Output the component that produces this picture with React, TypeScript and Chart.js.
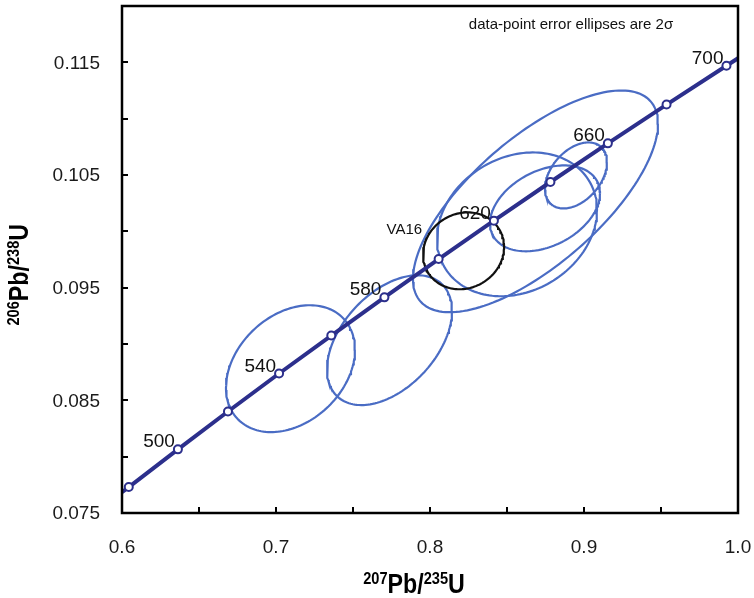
import React, { useEffect, useRef } from 'react';
import { Chart, registerables } from 'chart.js';

Chart.register(...registerables);

// Concordia (age in Ma, 207Pb/235U, 206Pb/238U)
const concordiaAges = [480, 500, 520, 540, 560, 580, 600, 620, 640, 660, 680, 700];
const concordiaX = [0.6044, 0.6363, 0.6688, 0.702, 0.7359, 0.7704, 0.8056, 0.8415, 0.8782, 0.9155, 0.9536, 0.9925];
const concordiaY = [0.0773, 0.08065, 0.08401, 0.08738, 0.09075, 0.09414, 0.09754, 0.10095, 0.10438, 0.10781, 0.11125, 0.1147];
const labelledAges = [500, 540, 580, 620, 660, 700];
// concordia where it meets the frame (left / right)
const concordiaEndsX = [0.6, 1.0];
const concordiaEndsY = [0.07684, 0.11536];

// Data-point error ellipses (2 sigma): centre, half-widths, correlation
const ellipseX = [0.7094, 0.7737, 0.8565, 0.8747, 0.8685, 0.8948];
const ellipseSx = [0.04188, 0.04058, 0.05195, 0.03571, 0.07955, 0.02013];
const ellipseY = [0.08781, 0.09034, 0.10062, 0.10204, 0.10266, 0.10496];
const ellipseSy = [0.00563, 0.00576, 0.00638, 0.00381, 0.00984, 0.00293];
const ellipseRho = [0.3, 0.45, 0.2, 0.35, 0.7, 0.4];

// Reference sample VA16
const refName = 'VA16';
const refX = 0.8218;
const refSx = 0.0263;
const refY = 0.09827;
const refSy = 0.00341;
const refRho = 0.1;

const xTickValues = [0.6, 0.65, 0.7, 0.75, 0.8, 0.85, 0.9, 0.95, 1.0];
const xTickLabels = ['0.6', '', '0.7', '', '0.8', '', '0.9', '', '1.0'];
const yTickValues = [0.075, 0.08, 0.085, 0.09, 0.095, 0.1, 0.105, 0.11, 0.115, 0.12];
const yTickLabels = ['0.075', '', '0.085', '', '0.095', '', '0.105', '', '0.115', ''];

const noteText = 'data-point error ellipses are 2\u03c3';

const FONT = '"Liberation Sans", Arial, Helvetica, sans-serif';
const NAVY = '#2c2f8c';
const BLUE = '#4a6cc4';

function ellipsePoints(cx: number, sx: number, cy: number, sy: number, rho: number) {
  const n = 160;
  const k = Math.sqrt(1 - rho * rho);
  const pts: { x: number; y: number }[] = [];
  for (let i = 0; i <= n; i++) {
    const t = (2 * Math.PI * i) / n;
    pts.push({ x: cx + sx * Math.cos(t), y: cy + sy * (rho * Math.cos(t) + k * Math.sin(t)) });
  }
  return pts;
}

type Part = { t: string; sup?: boolean };

function drawRich(ctx: CanvasRenderingContext2D, parts: Part[], cx: number, base: number) {
  const main = 27;
  const sup = 17;
  const raise = 9;
  const sx = 0.86;
  const fontOf = (p: Part) => `bold ${p.sup ? sup : main}px ${FONT}`;
  let total = 0;
  const widths = parts.map((p) => {
    ctx.font = fontOf(p);
    const w = ctx.measureText(p.t).width * sx;
    total += w;
    return w;
  });
  let x = cx - total / 2;
  parts.forEach((p, i) => {
    ctx.save();
    ctx.font = fontOf(p);
    ctx.translate(x, p.sup ? base - raise : base);
    ctx.scale(sx, 1);
    ctx.textAlign = 'left';
    ctx.textBaseline = 'alphabetic';
    ctx.fillText(p.t, 0, 0);
    ctx.restore();
    x += widths[i];
  });
}

const overlayPlugin = {
  id: 'overlay',
  afterDraw(chart: any) {
    const { ctx, chartArea: a, scales } = chart;
    const xs = scales.x;
    const ys = scales.y;
    ctx.save();
    ctx.strokeStyle = '#000';
    ctx.lineWidth = 2;
    ctx.beginPath();
    xTickValues.forEach((v) => {
      const p = Math.round(xs.getPixelForValue(v));
      ctx.moveTo(p, a.bottom);
      ctx.lineTo(p, a.bottom - 6);
    });
    yTickValues.forEach((v) => {
      const p = Math.round(ys.getPixelForValue(v));
      ctx.moveTo(a.left, p);
      ctx.lineTo(a.left + 6, p);
    });
    ctx.stroke();
    ctx.lineWidth = 2.5;
    ctx.strokeRect(a.left, a.top, a.right - a.left, a.bottom - a.top);

    // tick labels
    ctx.fillStyle = '#1a1a1a';
    ctx.font = `19px ${FONT}`;
    ctx.textAlign = 'center';
    ctx.textBaseline = 'top';
    xTickValues.forEach((v, i) => {
      if (!xTickLabels[i]) return;
      ctx.fillText(xTickLabels[i], xs.getPixelForValue(v), a.bottom + 25);
    });
    ctx.textAlign = 'right';
    ctx.textBaseline = 'middle';
    yTickValues.forEach((v, i) => {
      if (!yTickLabels[i]) return;
      ctx.fillText(yTickLabels[i], a.left - 22, ys.getPixelForValue(v) + 1);
    });

    // age labels
    ctx.fillStyle = '#111';
    ctx.font = `19px ${FONT}`;
    ctx.textAlign = 'right';
    ctx.textBaseline = 'alphabetic';
    labelledAges.forEach((age) => {
      const i = concordiaAges.indexOf(age);
      const px = xs.getPixelForValue(concordiaX[i]);
      const py = ys.getPixelForValue(concordiaY[i]);
      ctx.fillText(String(age), px - 3, py - 2);
    });

    // VA16 label
    ctx.font = `15px ${FONT}`;
    ctx.textAlign = 'right';
    const vx = xs.getPixelForValue(refX - refSx);
    const vy = ys.getPixelForValue(refY);
    ctx.fillText(refName, vx - 1, vy - 17);

    // note
    ctx.textAlign = 'center';
    ctx.font = `15px ${FONT}`;
    ctx.fillText(noteText, a.left + 449, a.top + 23);

    // axis titles
    ctx.fillStyle = '#000';
    drawRich(
      ctx,
      [{ t: '207', sup: true }, { t: 'Pb/' }, { t: '235', sup: true }, { t: 'U' }],
      a.left + (a.right - a.left) * 0.474,
      chart.height - 5
    );
    ctx.save();
    ctx.translate(28, a.top + (a.bottom - a.top) * 0.53);
    ctx.rotate(-Math.PI / 2);
    drawRich(ctx, [{ t: '206', sup: true }, { t: 'Pb/' }, { t: '238', sup: true }, { t: 'U' }], 0, 0);
    ctx.restore();
    ctx.restore();
  },
};

export default function App() {
  const ref = useRef<HTMLCanvasElement>(null);
  useEffect(() => {
    const canvas = ref.current;
    if (!canvas) return;
    const ellipseSets = ellipseX.map((cx, i) => ({
      data: ellipsePoints(cx, ellipseSx[i], ellipseY[i], ellipseSy[i], ellipseRho[i]),
      showLine: true,
      borderColor: BLUE,
      borderWidth: 2.2,
      pointRadius: 0,
      fill: false,
      order: 3,
    }));
    const lineData = [
      { x: concordiaEndsX[0], y: concordiaEndsY[0] },
      ...concordiaX.map((x, i) => ({ x, y: concordiaY[i] })),
      { x: concordiaEndsX[1], y: concordiaEndsY[1] },
    ];
    const chart = new Chart(canvas, {
      type: 'scatter',
      data: {
        datasets: [
          {
            data: concordiaX.map((x, i) => ({ x, y: concordiaY[i] })),
            showLine: false,
            pointRadius: 4,
            pointBorderWidth: 2,
            pointBackgroundColor: '#ffffff',
            pointBorderColor: NAVY,
            order: 0,
          },
          {
            data: lineData,
            showLine: true,
            borderColor: NAVY,
            borderWidth: 4,
            pointRadius: 0,
            order: 1,
          },
          {
            data: ellipsePoints(refX, refSx, refY, refSy, refRho),
            showLine: true,
            borderColor: '#111111',
            borderWidth: 2.2,
            pointRadius: 0,
            order: 2,
          },
          ...ellipseSets,
        ] as any,
      },
      options: {
        responsive: false,
        animation: false,
        layout: { padding: { top: 6, right: 16, left: 0, bottom: 0 } },
        plugins: { legend: { display: false }, tooltip: { enabled: false } },
        scales: {
          x: {
            type: 'linear',
            min: 0.6,
            max: 1.0,
            grid: { display: false },
            border: { display: false },
            ticks: { display: false },
            afterFit: (s: any) => {
              s.height = 85;
            },
          },
          y: {
            type: 'linear',
            min: 0.075,
            max: 0.12,
            grid: { display: false },
            border: { display: false },
            ticks: { display: false },
            afterFit: (s: any) => {
              s.width = 122;
            },
          },
        },
      } as any,
      plugins: [overlayPlugin],
    });
    return () => chart.destroy();
  }, []);
  return (
    <div style={{ position: 'fixed', left: 0, top: 0, width: 754, height: 598, background: '#ffffff' }}>
      <canvas ref={ref} width={754} height={598} style={{ display: 'block', width: 754, height: 598 }} />
    </div>
  );
}
